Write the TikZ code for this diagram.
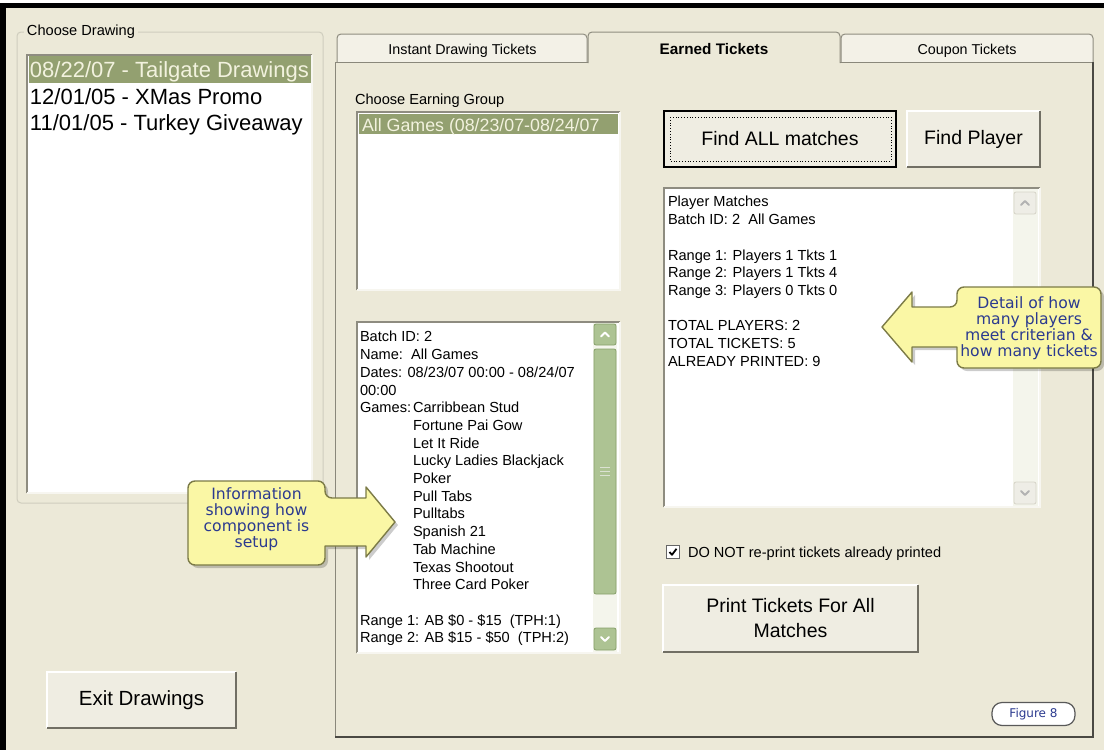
\documentclass[tikz,border=0pt]{standalone}
\usepackage{fontspec}
\setmainfont{Liberation Sans}
\newfontfamily\dvfont{DejaVu Sans}
\definecolor{winbg}{HTML}{ECE9D8}
\definecolor{btnface}{HTML}{EFEDE2}
\definecolor{btnshade}{HTML}{716F64}
\definecolor{selbg}{HTML}{93A070}
\definecolor{seltxt}{HTML}{F2F2DE}
\definecolor{sunkdark}{HTML}{8E8C80}
\definecolor{sunklight}{HTML}{F7F6F0}
\definecolor{sbgreen}{HTML}{ADC393}
\definecolor{sbedge}{HTML}{86A06A}
\definecolor{sbtrack}{HTML}{F4F5EC}
\definecolor{sbgray}{HTML}{EEEDE6}
\definecolor{sbgrayedge}{HTML}{D6D4C8}
\definecolor{callfill}{HTML}{FAF7A5}
\definecolor{calledge}{HTML}{7C7B47}
\definecolor{navy}{HTML}{2B3A8F}
\definecolor{grpln}{HTML}{CFCDBE}
\definecolor{tabedge}{HTML}{8F8D80}
\definecolor{tabbg}{HTML}{F3F1E7}
\definecolor{panelln}{HTML}{8A887B}
\definecolor{paneldark}{HTML}{4A4943}
\newcommand\uisize[2]{\fontsize{#1}{#2}\selectfont}
\newcommand\uiraised[1]{%
  \draw[white, line width=1.5pt] (#1.south west) -- (#1.north west) -- (#1.north east);
  \draw[btnshade, line width=1.8pt] (#1.south west) -- (#1.south east) -- (#1.north east);}
\newcommand\uisunken[1]{%
  \draw[sunkdark, line width=1.3pt] (#1.south west) -- (#1.north west) -- (#1.north east);
  \draw[sunklight, line width=1.3pt] (#1.south west) -- (#1.south east) -- (#1.north east);}
\begin{document}
\begin{tikzpicture}[x=1pt,y=-1pt,
  every node/.style={inner sep=0pt, outer sep=0pt},
  ui/.style={font=\uisize{14.6}{17.7}},
  tl/.style={ui, anchor=base west},
  biglist/.style={font=\uisize{22}{26.5}, anchor=base west},
  btn/.style={fill=btnface, font=\uisize{19.5}{25}, align=center},
  sunk/.style={fill=white},
  callout/.style={fill=callfill, draw=calledge, line width=1.4pt, line join=round},
  callshadow/.style={fill=black, opacity=0.2},
  calltext/.style={font=\dvfont\uisize{15.6}{16}, text=navy, align=center},
  tabshape/.style={draw=tabedge, line width=1pt, rounded corners=4pt},
  tabtext/.style={font=\uisize{14.3}{17}, anchor=base},
  sbbtn/.style={fill=sbgreen, draw=sbedge, line width=0.8pt, rounded corners=2pt},
  sbgbtn/.style={fill=sbgray, draw=sbgrayedge, line width=0.8pt, rounded corners=2pt},
  chev/.style={line width=2pt, line cap=round, line join=round}
]
\useasboundingbox (0,0) rectangle (1104,750);
% background and window edge
\fill[white] (0,0) rectangle (1104,750);
\fill[winbg] (6,8) rectangle (1104,750);
\fill[black] (0,3) rectangle (1104,8);
\fill[black] (0,3) rectangle (6,750);

% ---------- left group box ----------
\draw[grpln, line width=1pt, rounded corners=4pt] (17,32) rectangle (323,503);
\node[ui, anchor=west, fill=winbg, inner xsep=3pt] (grplbl) at (24,32) {Choose Drawing};
\node[sunk, minimum width=285pt, minimum height=438pt] (list1) at (169.5,274) {};
\uisunken{list1}
\begin{scope}
  \clip (29,56) rectangle (311,492);
  \fill[selbg] (29,56) rectangle (311,83);
  \node[biglist, text=seltxt] (draw1) at (30,77.5) {08/22/07 - Tailgate Drawings};
  \node[biglist] (draw2) at (30,104) {12/01/05 - XMas Promo};
  \node[biglist] (draw3) at (30,130.5) {11/01/05 - Turkey Giveaway};
\end{scope}

% Exit button
\node[btn, minimum width=189pt, minimum height=56pt, font=\uisize{20.5}{25}] (exitbtn) at (141.5,700) {Exit Drawings};
\uiraised{exitbtn}

% ---------- tabs ----------
\path[tabshape, fill=tabbg] (337,62) -- (337,34) -- (587,34) -- (587,62);
\path[tabshape, fill=tabbg] (841,62) -- (841,34) -- (1093,34) -- (1093,62);
\path[tabshape, fill=winbg] (588,63) -- (588,32) -- (840,32) -- (840,63);
\node[tabtext] (tab1) at (462.5,54) {Instant Drawing Tickets};
\node[tabtext, font=\bfseries\uisize{15.3}{17}] (tab2) at (714,54.5) {Earned Tickets};
\node[tabtext] (tab3) at (967,54) {Coupon Tickets};

% panel
\draw[panelln, line width=1pt] (588,62) -- (335,62) -- (335,737);
\draw[panelln, line width=1pt] (840,62) -- (1093,62);
\draw[paneldark, line width=2pt] (335,737) -- (1093,737) -- (1093,62);

% ---------- earning group ----------
\node[tl] (grouplbl) at (355,104) {Choose Earning Group};
\node[sunk, minimum width=263pt, minimum height=178pt] (list2) at (488.5,201) {};
\uisunken{list2}
\fill[selbg] (359,114) rectangle (618,134);
\node[font=\uisize{17.8}{20}, anchor=base west, text=seltxt] (grp1) at (362,131) {All Games (08/23/07-08/24/07};

% ---------- batch info box ----------
\node[sunk, minimum width=263pt, minimum height=331pt] (batch) at (488.5,487.5) {};
\uisunken{batch}
\node[ui, anchor=north west, align=left] (batchtxt) at (360,329.6) {\strut Batch ID: 2\\
Name:\ \ All Games\\
Dates: 08/23/07 00:00 - 08/24/07\\
00:00\\
\makebox[53pt][l]{Games:}Carribbean Stud\\
\hspace*{53pt}Fortune Pai Gow\\
\hspace*{53pt}Let It Ride\\
\hspace*{53pt}Lucky Ladies Blackjack\\
\hspace*{53pt}Poker\\
\hspace*{53pt}Pull Tabs\\
\hspace*{53pt}Pulltabs\\
\hspace*{53pt}Spanish 21\\
\hspace*{53pt}Tab Machine\\
\hspace*{53pt}Texas Shootout\\
\hspace*{53pt}Three Card Poker\\
\strut\\
Range 1: AB \$0 - \$15\ \ (TPH:1)\\
Range 2: AB \$15 - \$50\ \ (TPH:2)};
% batch scrollbar
\node[fill=sbtrack, minimum width=24pt, minimum height=329pt] (btrack) at (605,487.5) {};
\node[sbbtn, minimum width=22pt, minimum height=21pt] (bup) at (605,334.5) {};
\node[sbbtn, minimum width=22pt, minimum height=245pt] (bthumb) at (605,471.5) {};
\node[sbbtn, minimum width=22pt, minimum height=22pt] (bdown) at (605,639) {};
\draw[white, chev] ([shift={(-4,2)}]bup.center) -- ([shift={(0,-2)}]bup.center) -- ([shift={(4,2)}]bup.center);
\draw[white, chev] ([shift={(-4,-2)}]bdown.center) -- ([shift={(0,2)}]bdown.center) -- ([shift={(4,-2)}]bdown.center);
\foreach \g in {-4,0,4}{\draw[white!70!sbedge, line width=1pt] ([shift={(-5,\g)}]bthumb.center) -- ([shift={(5,\g)}]bthumb.center);}

% ---------- find buttons ----------
\node[btn, minimum width=232pt, minimum height=56pt] (findall) at (780,139) {Find ALL matches};
\uiraised{findall}
\draw[black, line width=1.6pt] (findall.south west) rectangle (findall.north east);
\draw[black, dotted, line width=0.8pt] ([shift={(6,6)}]findall.north west) rectangle ([shift={(-5,-6)}]findall.south east);
\node[btn, minimum width=133pt, minimum height=56pt] (findplayer) at (973.5,139) {Find Player};
\uiraised{findplayer}

% ---------- player matches box ----------
\node[sunk, minimum width=376pt, minimum height=319pt] (matches) at (852,347.5) {};
\uisunken{matches}
\node[ui, anchor=north west, align=left] (matchtxt) at (668,194.6) {\strut Player Matches\\
Batch ID: 2\ \ All Games\\
\strut\\
Range 1: Players 1 Tkts 1\\
Range 2: Players 1 Tkts 4\\
Range 3: Players 0 Tkts 0\\
\strut\\
TOTAL PLAYERS: 2\\
TOTAL TICKETS: 5\\
ALREADY PRINTED: 9};
\node[fill=sbtrack, minimum width=25pt, minimum height=317pt] (mtrack) at (1025.5,347.5) {};
\node[sbgbtn, minimum width=22pt, minimum height=22pt] (mup) at (1025,203) {};
\node[sbgbtn, minimum width=22pt, minimum height=22pt] (mdown) at (1025,493) {};
\draw[black!30, chev] ([shift={(-4,2)}]mup.center) -- ([shift={(0,-2)}]mup.center) -- ([shift={(4,2)}]mup.center);
\draw[black!30, chev] ([shift={(-4,-2)}]mdown.center) -- ([shift={(0,2)}]mdown.center) -- ([shift={(4,-2)}]mdown.center);

% ---------- checkbox ----------
\node[draw=black!60, fill=white, line width=1pt, minimum size=13pt] (chk) at (673,552) {};
\draw[black, line width=1.8pt, line join=round] ([shift={(-3.5,0)}]chk.center) -- ([shift={(-1,2.8)}]chk.center) -- ([shift={(3.5,-3.2)}]chk.center);
\node[tl] (chklbl) at (688,557) {DO NOT re-print tickets already printed};

% ---------- print button ----------
\node[btn, minimum width=255pt, minimum height=67pt] (printbtn) at (790.5,618.5) {Print Tickets For All\\Matches};
\uiraised{printbtn}

% ---------- figure label ----------
\node[draw=black!65, fill=white, line width=1.2pt, rounded corners=10pt, minimum width=83pt, minimum height=23pt, font=\dvfont\uisize{12}{14}, text=navy] (fig) at (1033.5,714) {Figure 8};

% ---------- callout: information ----------
\fill[callshadow] (191,526) [rounded corners=7pt] -- (191,484) -- (328,484) -- (328,501) [sharp corners] -- (369,501) -- (369,490) -- (398,525) -- (369,560) -- (369,549) -- (328,549) [rounded corners=7pt] -- (328,568) -- (191,568) -- cycle;
\draw[callout] (188,523) [rounded corners=7pt] -- (188,481) -- (325,481) -- (325,498) [sharp corners] -- (366,498) -- (366,487) -- (395,522) -- (366,557) -- (366,546) -- (325,546) [rounded corners=7pt] -- (325,565) -- (188,565) -- cycle;
\node[calltext] (infotxt) at (256.5,519) {Information\\showing how\\component is\\setup};

% ---------- callout: detail ----------
\fill[callshadow] (1104,330) [rounded corners=7pt] -- (1104,290) -- (960,290) -- (960,310) [sharp corners] -- (915,310) -- (915,295) -- (885,330) -- (915,365) -- (915,350) -- (960,350) [rounded corners=7pt] -- (960,371) -- (1104,371) -- cycle;
\draw[callout] (1101,327) [rounded corners=7pt] -- (1101,287) -- (957,287) -- (957,307) [sharp corners] -- (912,307) -- (912,292) -- (882,327) -- (912,362) -- (912,347) -- (957,347) [rounded corners=7pt] -- (957,368) -- (1101,368) -- cycle;
\node[calltext] (detailtxt) at (1029,328) {Detail of how\\many players\\meet criterian \&\\how many tickets};
\end{tikzpicture}
\end{document}
